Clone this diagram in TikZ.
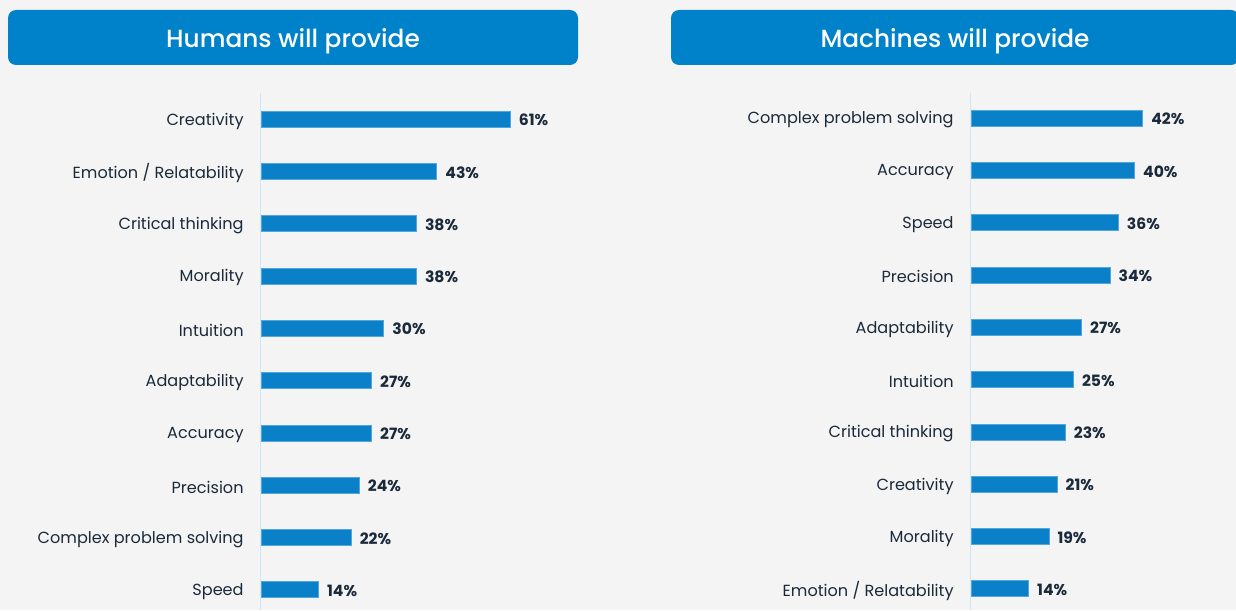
\documentclass[tikz,border=0pt]{standalone}
\usepackage{fontspec}
\setmainfont{Poppins}
\newfontfamily\headfont{Poppins Medium}
\usetikzlibrary{positioning}
\definecolor{bgGray}{HTML}{F4F4F4}
\definecolor{headBlue}{HTML}{0082CA}
\definecolor{barBlue}{HTML}{0A80C8}
\definecolor{axisBlue}{HTML}{CFE6F7}
\definecolor{textNavy}{HTML}{1B2A3A}

\begin{document}
\begin{tikzpicture}[x=0.5pt,y=-0.5pt,
  head node/.style={rectangle, rounded corners=4pt, fill=headBlue, text=white,
    minimum height=27.5pt, text depth=0pt, font=\headfont\fontsize{12.4}{14}\selectfont},
  lab node/.style={anchor=east, inner sep=0pt, yshift=-1pt, text=textNavy, font=\fontsize{8.05}{9}\selectfont},
  bar node/.style={rectangle, anchor=west, fill=barBlue, draw=barBlue!70!white,
    line width=0.3pt, inner sep=0pt, minimum height=8pt},
  val node/.style={right=4pt of #1, inner sep=0pt, yshift=-0.5pt, text=textNavy, font=\bfseries\fontsize{7.8}{9}\selectfont},
  axis line/.style={draw=axisBlue, line width=0.6pt}]
  \fill[bgGray] (0,0) rectangle (1236,610);
  \clip (0,0) rectangle (1236,610);
  % headers
  \node[head node, minimum width=285pt] (hHead) at (293,37.5) {Humans will provide};
  \node[head node, minimum width=284pt] (mHead) at (955,37.5) {Machines will provide};
  % axis lines
  \coordinate (hTop) at (260.5,93);  \coordinate (hBot) at (260.5,610);
  \coordinate (mTop) at (970.5,93);  \coordinate (mBot) at (970.5,610);
  \draw[axis line] (hTop) -- (hBot);
  \draw[axis line] (mTop) -- (mBot);
  % humans
  \foreach \v/\txt [count=\i] in {61/Creativity, 43/{Emotion / Relatability}, 38/Critical thinking,
      38/Morality, 30/Intuition, 27/Adaptability, 27/Accuracy, 24/Precision,
      22/Complex problem solving, 14/Speed}
  {
    \node[lab node] (h\i-lab) at (244,{119+(\i-1)*52.3}) {\txt};
    \node[bar node, minimum width={\v*2.04pt}] (h\i-bar) at (261,{119+(\i-1)*52.3}) {};
    \node[val node=h\i-bar] (h\i-val) {\v\%};
  }
  % machines
  \foreach \v/\txt [count=\i] in {42/Complex problem solving, 40/Accuracy, 36/Speed,
      34/Precision, 27/Adaptability, 25/Intuition, 23/Critical thinking,
      21/Creativity, 19/Morality, 14/{Emotion / Relatability}}
  {
    \node[lab node] (m\i-lab) at (954,{118+(\i-1)*52.3}) {\txt};
    \node[bar node, minimum width={\v*2.04pt}] (m\i-bar) at (971,{118+(\i-1)*52.3}) {};
    \node[val node=m\i-bar] (m\i-val) {\v\%};
  }
\end{tikzpicture}
\end{document}
